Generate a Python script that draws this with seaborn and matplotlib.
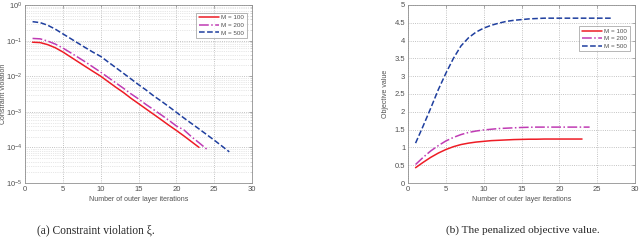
import numpy as np
import pandas as pd
import matplotlib
matplotlib.use('Agg')
import matplotlib.pyplot as plt
import seaborn as sns
from matplotlib.ticker import LogLocator, NullFormatter, MultipleLocator, FormatStrFormatter

# --- Data ---
iters_100 = list(range(1, 24))
iters_200 = list(range(1, 25))
iters_500 = list(range(1, 28))

viol_100 = [0.09, 0.088, 0.077, 0.063, 0.048, 0.035, 0.0255, 0.0186, 0.0136, 0.0100,
            0.0070, 0.0049, 0.0035, 0.0024, 0.0017, 0.0012, 0.00085, 0.0006, 0.00042,
            0.0003, 0.00021, 0.000145, 0.0001]
viol_200 = [0.115, 0.112, 0.097, 0.08, 0.062, 0.046, 0.034, 0.025, 0.018, 0.013,
            0.0092, 0.0065, 0.0046, 0.0032, 0.0023, 0.0016, 0.00115, 0.00082, 0.00058,
            0.0004, 0.00031, 0.0002, 0.000135, 0.00009]
viol_500 = [0.34, 0.32, 0.27, 0.21, 0.155, 0.115, 0.085, 0.063, 0.047, 0.036,
            0.025, 0.0174, 0.0121, 0.0084, 0.0058, 0.0041, 0.0028, 0.002, 0.0014,
            0.00097, 0.00067, 0.00047, 0.00033, 0.00023, 0.00016, 0.00011, 0.000075]

obj_100 = [0.43, 0.58, 0.72, 0.84, 0.94, 1.02, 1.08, 1.12, 1.15, 1.17, 1.19, 1.20,
           1.21, 1.22, 1.225, 1.23, 1.23, 1.235, 1.235, 1.235, 1.235, 1.235, 1.235]
obj_200 = [0.52, 0.72, 0.90, 1.05, 1.18, 1.28, 1.36, 1.42, 1.46, 1.49, 1.51, 1.53,
           1.54, 1.55, 1.56, 1.565, 1.57, 1.57, 1.57, 1.57, 1.57, 1.57, 1.57, 1.57]
obj_500 = [1.12, 1.6, 2.1, 2.62, 3.08, 3.5, 3.85, 4.08, 4.24, 4.35, 4.43, 4.49, 4.54,
           4.57, 4.59, 4.61, 4.62, 4.63, 4.63, 4.63, 4.63, 4.63, 4.63, 4.63, 4.63,
           4.63, 4.63]

labels = ['M = 100', 'M = 200', 'M = 500']
colors = ['#ee1c25', '#c03cb4', '#1f3f9f']
styles = ['-', '-.', '--']

sns.set_style('white')
plt.rcParams['font.family'] = ['Liberation Sans', 'DejaVu Sans']

fig = plt.figure(figsize=(6.4, 2.45), dpi=100)
ax1 = fig.add_axes([25 / 640, 1 - 183 / 245, 227 / 640, 178 / 245])
ax2 = fig.add_axes([408 / 640, 1 - 183 / 245, 227 / 640, 178 / 245])

grey = '#505050'


def draw(ax, xs, ys):
    for x, y, lab, c, ls in zip(xs, ys, labels, colors, styles):
        sns.lineplot(x=x, y=y, ax=ax, color=c, linestyle=ls, linewidth=1.1, label=lab)


draw(ax1, [iters_100, iters_200, iters_500], [viol_100, viol_200, viol_500])
draw(ax2, [iters_100, iters_200, iters_500], [obj_100, obj_200, obj_500])

ax1.set_yscale('log')
ax1.set_ylim(1e-5, 1)
ax1.yaxis.set_major_locator(LogLocator(base=10, numticks=10))
ax1.yaxis.set_minor_locator(LogLocator(base=10, subs=np.arange(2, 10), numticks=50))
ax1.yaxis.set_minor_formatter(NullFormatter())
ax1.grid(True, which='major', linestyle=':', color='#b0b0b0', linewidth=0.6)
ax1.grid(True, which='minor', axis='y', linestyle=':', color='#d0d0d0', linewidth=0.5)
ax1.set_ylabel('Constraint violation', fontsize=5, color=grey)
ax1.yaxis.set_label_coords(-0.08, 0.5)

ax2.set_ylim(0, 5)
ax2.yaxis.set_major_locator(MultipleLocator(0.5))
ax2.yaxis.set_major_formatter(FormatStrFormatter('%g'))
ax2.grid(True, which='major', linestyle=':', color='#b0b0b0', linewidth=0.6)
ax2.set_ylabel('Objective value', fontsize=5, color=grey)
ax2.yaxis.set_label_coords(-0.085, 0.5)

for ax in (ax1, ax2):
    ax.set_xlim(0, 30)
    ax.xaxis.set_major_locator(MultipleLocator(5))
    ax.set_xlabel('Number of outer layer iterations', fontsize=5, color=grey, labelpad=2)
    ax.tick_params(which='both', direction='in', top=True, right=True, labelsize=5.5,
                   labelcolor=grey, colors='#909090', length=2, width=0.5, pad=2)
    ax.tick_params(which='minor', length=1)
    for s in ax.spines.values():
        s.set_color('#909090')
        s.set_linewidth(0.6)

leg1 = ax1.legend(loc='upper right', bbox_to_anchor=(0.99, 0.975), fontsize=4.5,
                  handlelength=3.3, frameon=True, fancybox=False, borderpad=0.4,
                  labelspacing=0.35, handletextpad=0.3)
leg2 = ax2.legend(loc='upper right', bbox_to_anchor=(0.99, 0.9), fontsize=4.5,
                  handlelength=3.3, frameon=True, fancybox=False, borderpad=0.4,
                  labelspacing=0.35, handletextpad=0.3)
for leg in (leg1, leg2):
    leg.get_frame().set_edgecolor('#808080')
    leg.get_frame().set_linewidth(0.5)
    for t in leg.get_texts():
        t.set_color(grey)

fig.text(96 / 640, 1 - 230 / 245, '(a) Constraint violation \u03be.', ha='center', va='center',
         fontsize=8.3, family=['Liberation Serif', 'DejaVu Serif'])
fig.text(523 / 640, 1 - 230 / 245, '(b) The penalized objective value.', ha='center',
         va='center', fontsize=8.1, family=['Liberation Serif', 'DejaVu Serif'])

fig.savefig('out.png', dpi=100)
